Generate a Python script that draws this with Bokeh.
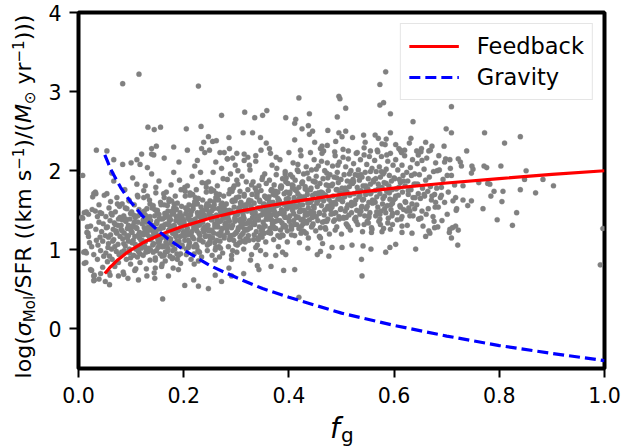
import math
from bokeh.plotting import figure
from bokeh.models import Range1d, FixedTicker, PrintfTickFormatter, Legend, LegendItem
from bokeh.core.properties import value
from bokeh.embed import file_html
from bokeh.resources import INLINE

# ---------------- model curves ----------------
fg_curve = [0.05, 0.055, 0.06, 0.065, 0.07, 0.075, 0.08, 0.09, 0.10, 0.12, 0.13, 0.15, 0.17,
            0.20, 0.25, 0.30, 0.35, 0.40, 0.50, 0.60, 0.70, 0.80, 0.90, 1.00]
feedback = [0.70, 0.74, 0.78, 0.81, 0.845, 0.875, 0.90, 0.955, 1.00, 1.08, 1.115, 1.175, 1.23,
            1.30, 1.40, 1.48, 1.545, 1.60, 1.70, 1.78, 1.845, 1.90, 1.955, 2.00]
gravity = [2.20, 2.12, 2.04, 1.97, 1.91, 1.85, 1.79, 1.69, 1.60, 1.44, 1.37, 1.25, 1.14,
           1.00, 0.80, 0.65, 0.51, 0.40, 0.20, 0.045, -0.09, -0.21, -0.31, -0.40]

# ---------------- galaxies: f_g (x1000) and log ratio (x100) ----------------
fg_r01 = [6,10,14,15,18,19,21,23,23,26,27,29,30,30,33,33,34,36,36,37,39,39,41,42,42,44,44,46,46,47,48,49,25,32,17]
lr_r01 = [141,97,84,148,121,117,109,130,75,151,167,94,62,68,171,126,112,142,88,106,135,157,116,70,99,123,146,78,111,133,92,169,104,149,129]

fg_r02 = [51,52,52,54,55,55,57,58,58,60,61,61,63,64,64,66,67,67,69,70,70,72,73,73,75,76,76,78,79,53,56,59,62,65,68,71,74,77,79,57,63,69,75,60,72]
lr_r02 = [118,142,96,171,129,85,108,153,72,137,119,161,101,88,144,126,187,113,79,148,132,98,166,121,107,139,84,155,117,128,103,92,146,111,134,124,158,94,141,116,197,104,131,68,122]

fg_r03 = [81,82,83,84,85,86,87,88,89,90,91,92,93,94,95,96,97,98,99,100,101,102,103,104,105,106,107,108,109,110,111,112,113,114,115,116,117,118,119,81,84,87,90,93,96,99,102,105,108,111,114,117,83,89,95,101,107,113,119,86]
lr_r03 = [131,97,158,114,72,143,121,176,105,136,88,152,127,64,118,163,101,139,82,124,148,109,191,131,93,157,117,141,76,128,104,169,135,98,151,122,84,145,112,126,208,99,137,115,162,90,129,144,107,183,119,95,138,153,111,129,74,167,102,140]

fg_r04 = [121,122,123,124,125,126,127,128,129,130,131,132,133,134,135,136,137,138,139,140,141,142,143,144,145,146,147,148,149,150,151,152,153,154,155,156,157,158,159,122,125,128,131,134,137,140,143,146,149,152,155,158,124,130,136,142,148,154,127,133,139,145,151,157,123,135,147,159,129,141]
lr_r04 = [112,147,93,166,128,104,181,135,76,152,119,98,141,125,163,87,137,114,196,131,106,156,121,71,143,117,172,99,134,150,126,109,187,140,95,160,115,130,82,145,122,102,168,136,113,153,127,90,148,118,139,105,175,124,158,97,133,111,144,129,221,64,103,157,138,116,179,92,142,124]

fg_r05 = [161,162,163,164,165,166,167,168,169,170,171,172,173,174,175,176,177,178,179,180,181,182,183,184,185,186,187,188,189,190,191,192,193,194,195,196,197,198,199,162,165,168,171,174,177,180,183,186,189,192,195,198,164,170,176,182,188,194,200,163,167,173,179,185,191,197,169,181,193,166,178,190,196,172,184]
lr_r05 = [128,104,157,141,86,119,173,133,98,149,115,164,126,92,138,182,109,145,121,77,153,131,101,168,117,142,95,159,124,136,111,188,147,83,129,155,106,139,121,171,97,144,132,113,162,90,127,151,108,135,176,118,146,102,130,158,88,140,123,166,114,137,99,152,126,143,107,198,134,116,149,93,129,161,120]

fg_r06 = [201,202,203,204,205,206,207,208,209,210,211,212,213,214,215,216,217,218,219,220,221,222,223,224,225,226,227,228,229,230,231,232,233,234,235,236,237,238,239,202,205,208,211,214,217,220,223,226,229,232,235,238,204,210,216,222,228,234,240,203,207,213,219,225,231,237,209,221,233,206,218,230,236,212,224]
lr_r06 = [137,112,168,146,94,125,181,141,103,157,120,172,133,88,149,193,116,152,128,82,161,139,107,176,124,147,99,165,131,143,118,198,154,91,136,163,110,145,127,179,101,151,138,119,170,95,133,158,113,142,185,123,153,106,137,166,86,148,129,174,119,144,104,159,132,150,112,206,140,121,156,97,135,169,126]

fg_r07 = [241,242,243,244,245,246,247,248,249,250,251,252,253,254,255,256,257,258,259,260,261,262,263,264,265,266,267,268,269,270,271,272,273,274,275,276,277,278,279,242,245,248,251,254,257,260,263,266,269,272,275,278,244,250,256,262,268,274,280,243,247,253,259,265,271,277,249,261,273,246,258,270,276,252,264]
lr_r07 = [142,118,173,151,99,131,186,146,108,162,125,177,138,93,154,198,121,157,133,87,166,144,112,181,129,152,104,170,136,148,123,203,159,96,141,168,115,150,132,184,106,156,143,124,175,100,138,163,118,147,190,128,158,111,142,171,91,153,134,179,124,149,109,164,137,155,117,211,145,126,161,102,140,174,131]

fg_r08 = [281,282,283,284,285,286,287,288,289,290,291,292,293,294,295,296,297,298,299,300,301,302,303,304,305,306,307,308,309,310,311,312,313,314,315,316,317,318,319,282,285,288,291,294,297,300,303,306,309,312,315,318,284,290,296,302,308,314,320,283,287,293,299,305,311,317,289,301,313,286,298,310,316,292,304]
lr_r08 = [158,127,189,143,104,171,136,117,196,149,88,162,131,178,112,154,140,207,121,166,97,145,183,128,152,109,174,139,160,119,193,134,148,101,168,125,157,114,186,142,130,176,93,163,146,122,200,137,155,111,170,133,147,118,181,106,159,141,125,215,150,99,138,167,129,153,116,188,144,77,162,135,126,174,148]

fg_r09 = [321,322,323,324,325,326,327,328,329,330,331,332,333,334,335,336,337,338,339,340,341,342,343,344,345,346,347,348,349,350,351,352,353,354,355,356,357,358,359,322,325,328,331,334,337,340,343,346,349,352,355,358,324,330,336,342,348,354,360,323,327,333,339,345,351,357,329,341,353,326,338,350,356,332,344]
lr_r09 = [149,176,118,163,137,201,128,155,94,170,141,186,113,159,132,147,219,123,167,106,153,138,181,129,161,99,175,144,116,192,135,157,121,168,146,110,184,139,152,126,207,162,133,148,103,172,143,119,189,156,130,165,112,150,178,138,124,196,147,160,87,134,169,153,121,144,182,115,158,136,174,127,151,141,163]

fg_r10 = [361,362,363,364,365,366,367,368,369,370,371,372,373,374,375,376,377,378,379,380,381,382,383,384,385,386,387,388,389,390,391,392,393,394,395,396,397,398,399,362,365,368,371,374,377,380,383,386,389,392,395,398,364,370,376,382,388,394,363,369,375,381,387,393,367,379,391,372,384,396]
lr_r10 = [166,139,188,152,121,175,144,207,131,160,113,182,148,169,127,195,156,137,173,104,162,146,214,125,178,151,134,190,118,158,171,142,199,129,164,153,110,184,140,167,122,176,150,136,203,159,116,180,145,131,191,155,127,170,143,161,97,186,149,133,174,157,119,196,138,165,147,128,179,152]

fg_r11 = [401,402,403,404,405,406,407,408,409,410,411,412,413,414,415,416,417,418,419,420,421,422,423,424,425,426,427,428,429,430,431,432,433,434,435,436,437,438,439,402,405,408,411,414,417,420,423,426,429,432,435,438,404,412,420,428,436,407,415,423,431,410,426,418,434]
lr_r11 = [171,143,195,158,126,182,150,210,137,166,118,188,154,175,132,201,162,141,179,109,168,151,219,130,185,157,139,196,123,164,177,147,205,134,170,159,115,190,146,173,128,181,156,142,208,165,121,186,150,136,197,161,131,176,148,167,102,192,155,138,180,163,124,199,144]

fg_r12 = [441,442,443,444,445,446,447,448,449,450,451,452,453,454,455,456,457,458,459,460,461,462,463,464,465,466,467,468,469,470,471,472,473,474,475,476,477,478,479,442,446,450,454,458,462,466,470,474,478,444,452,460,468,476,448,456,464,472,480,445]
lr_r12 = [176,149,201,163,131,187,155,214,142,171,124,193,159,180,137,206,167,146,184,115,173,156,222,135,190,162,144,200,128,169,182,152,210,139,175,164,120,195,151,178,133,186,161,147,212,170,126,191,155,141,202,166,136,181,153,172,108,197,160,143]

fg_r13 = [481,482,483,484,485,486,487,488,489,490,491,492,493,494,495,496,497,498,499,500,501,502,503,504,505,506,507,508,509,510,511,512,513,514,515,516,517,518,519,483,487,491,495,499,503,507,511,515,519,485,493,501,509,517,489]
lr_r13 = [181,154,206,168,136,192,160,219,147,176,129,198,164,185,142,211,172,151,189,120,178,161,227,140,195,167,149,205,133,174,187,157,215,144,180,169,125,200,156,183,138,191,166,152,217,175,131,196,160,146,207,171,141,186,158]

fg_r14 = [521,522,523,524,525,526,527,528,529,530,531,532,533,534,535,536,537,538,539,540,541,542,543,544,545,546,547,548,549,550,551,552,553,554,555,556,557,558,559,523,527,531,535,539,543,547,551,555,559,537]
lr_r14 = [184,158,209,171,139,195,163,222,150,179,132,201,167,188,145,214,175,154,192,123,181,164,229,143,198,170,152,208,136,177,190,160,218,147,183,172,128,203,159,186,141,194,169,155,220,178,134,199,163,149]

fg_r15 = [561,562,563,564,565,566,567,568,569,570,571,572,573,574,575,576,577,578,579,580,581,582,583,584,585,586,587,588,589,590,591,592,593,594,595,596,597,598,599,565,573,581,589,597,569]
lr_r15 = [188,162,213,175,143,199,167,226,154,183,136,205,171,192,149,218,179,158,196,127,185,168,233,147,202,174,156,212,140,181,194,164,222,151,187,176,132,207,163,190,145,198,173,159,224]

fg_r16 = [601,602,603,604,606,607,608,609,611,612,613,615,616,617,618,620,621,622,624,625,626,627,629,630,631,632,634,635,636,638,639,640,614,628,610]
lr_r16 = [190,165,214,177,147,201,169,228,156,185,139,207,173,194,151,219,181,160,198,131,187,170,235,149,204,176,158,214,143,183,196,166,223,153,189]

fg_r17 = [641,643,644,646,647,648,650,651,653,654,655,657,658,660,661,662,664,665,667,668,669,671,672,674,675,677,678,679]
lr_r17 = [183,157,209,171,139,195,165,224,149,178,130,202,168,188,145,216,174,152,192,121,180,163,231,142,199,170,154,210]

fg_r18 = [681,684,686,688,691,693,696,698,701,703,706,709,712,715,718]
lr_r18 = [178,154,201,166,137,189,160,215,145,173,126,194,162,182,150]

# extra points in the dense core of the cloud
fg_c1 = [83,86,90,92,95,97,99,102,104,106,109,111,113,116,118,121,123,125,127,130,132,134,136,138,141,143,145,147,149,151,153,156,158,160,162,164,166,169,171,173,175,177,179,181,183,185,187,189,191,193,195,197,199,112,128,146,163,178,194,137]
lr_c1 = [124,108,139,117,131,96,146,122,112,135,101,127,143,115,106,133,119,149,110,138,125,102,142,116,130,108,151,121,136,113,145,127,104,139,118,132,109,156,124,141,114,129,106,147,120,137,111,126,143,117,135,104,131,91,97,87,93,89,95,100]

fg_c2 = [201,203,205,207,209,211,213,215,217,219,221,223,225,227,229,231,233,235,237,239,241,243,245,247,249,251,253,255,257,259,261,263,265,267,269,271,273,275,277,279,281,283,285,287,289,291,293,295,297,299,301,303,305,307,309,311,313,315,317,319,322,326,330,334,338,342,346,349,324,336]
lr_c2 = [133,118,152,127,141,109,146,123,137,114,158,129,104,143,121,135,112,149,126,140,117,155,131,108,145,124,138,115,152,129,103,142,120,136,111,157,127,144,118,133,150,122,139,113,147,128,161,119,136,107,144,125,153,116,132,148,121,139,110,156,134,128,147,119,141,113,152,126,160,137]

fg_c3 = [351,353,355,357,359,361,363,365,367,369,371,373,375,377,379,381,383,385,387,389,391,393,395,397,399,401,403,405,407,409,411,413,415,417,419,421,423,425,427,429,431,433,435,437,439,441,443,445,447,449,452,456,460,464,468,472,476,480,484,488,492,496,499,458,474]
lr_c3 = [148,131,167,139,156,122,161,143,176,134,152,127,170,145,118,163,137,181,149,129,158,141,173,124,165,136,154,119,178,146,132,162,141,171,127,157,149,184,133,166,144,121,175,153,138,160,129,169,147,186,142,163,128,172,150,136,181,145,158,125,176,139,164,117,155]

fg_c4 = [501,504,507,510,513,516,519,522,525,528,531,534,537,540,543,546,549,552,555,558,561,564,567,570,573,576,579,582,585,588,591,594,597,600,603,606,609,612,615,618,621,624,627,630,633,636,639,645,651,657]
lr_c4 = [162,141,178,153,129,170,147,189,158,136,174,149,195,163,132,181,155,143,171,126,186,160,148,177,139,199,165,152,184,134,172,157,146,191,168,138,179,154,130,187,161,149,175,143,194,166,152,183,140,170]

# individually read outlying points
fg_out = [84,115,228,272,316,335,132,144,156,205,233,247,238,255,262,286,313,331,34,54,67,100,111,117,120,131,139,148,143,163,181,191,207,226,234,240,249,269,277,283,293,287,301,315,322,315,337,8,
          584,573,419,495,497,580,573,508,350,358,439,394,413,411,492,593,636,437,425,445,439,474,495,508,501,542,564,570,585,593,346,411,489,521,545,577,603,632,660,449,463,473,347,357,363,365,376,400,422,441,460,466,487,513,530,555,586,612,620,643,652,666,646,653,
          709,699,709,772,840,810,695,738,669,685,696,706,722,726,728,748,750,747,771,776,803,851,707,682,701,883,
          848,903,731,690,761,778,782,790,807,840,869,784,672,690,717,731,747,679,740,719,769,805,833,796,825,676,677,683,711,717,722,705,709,721,992,997,
          539,538,419,411,390,366,340,343,476,501,482,520,541,556,584,592,603,641,460,454,394,375,356,660,666,647,615,596,634,615,593,577,557,574,552,
          160,59,39,29,29,25,51,76,86,114,130,146,171,202,219,228,247,272,260,291,314,190,158,11,8,19,16,13,32,29,41,11,15]
lr_out = [310,322,307,270,274,267,255,252,255,253,256,243,236,237,238,242,248,248,226,225,214,210,214,208,221,204,228,231,220,216,230,211,226,213,228,223,226,223,223,215,216,228,222,221,217,213,212,194,
          325,309,292,294,291,286,283,279,270,276,272,267,265,260,268,272,262,257,253,250,246,251,248,250,243,245,245,241,240,248,242,239,237,242,236,234,233,241,236,236,231,232,226,235,228,222,217,223,226,223,228,225,224,225,223,225,220,226,226,225,228,225,220,213,
          281,253,248,248,243,235,231,225,226,219,211,214,215,211,206,206,202,197,206,204,206,200,203,200,194,189,
          189,181,181,179,185,184,183,174,174,176,172,168,168,169,166,163,162,160,156,152,152,161,147,138,131,136,128,129,128,130,125,122,115,106,81,127,
          67,88,40,75,74,79,80,75,92,103,103,106,105,101,97,103,107,101,98,94,94,93,94,117,124,139,142,143,121,122,126,123,122,132,141,
          38,56,63,67,61,74,60,67,69,62,67,77,67,55,62,54,51,60,68,67,70,75,79,147,140,145,122,98,173,171,147,83,96]

fg_groups = [fg_r01, fg_r02, fg_r03, fg_r04, fg_r05, fg_r06, fg_r07, fg_r08, fg_r09,
             fg_r10, fg_r11, fg_r12, fg_r13, fg_r14, fg_r15, fg_r16, fg_r17, fg_r18,
             fg_c1, fg_c2, fg_c3, fg_c4, fg_out]
lr_groups = [lr_r01, lr_r02, lr_r03, lr_r04, lr_r05, lr_r06, lr_r07, lr_r08, lr_r09,
             lr_r10, lr_r11, lr_r12, lr_r13, lr_r14, lr_r15, lr_r16, lr_r17, lr_r18,
             lr_c1, lr_c2, lr_c3, lr_c4, lr_out]

gx, gy = [], []
for fx, fy in zip(fg_groups, lr_groups):
    for a, b in zip(fx, fy):
        gx.append(a / 1000.0)
        gy.append(b / 100.0)

# ---------------- layout ----------------
W, H = 625, 448
ML, MR, MT, MB = 78, 21, 12, 80
X0, X1, Y0, Y1 = 0.0, 1.0, -0.5, 4.0
PXX = (W - ML - MR) / (X1 - X0)
PXY = (H - MT - MB) / (Y1 - Y0)
FONT = "DejaVu Sans"
MID = 0.346   # distance (in em) from the alphabetic baseline to the middle of the text box


def cx(px):
    """canvas x (px from left) -> data x"""
    return X0 + (px - ML) / PXX


def cy(py):
    """canvas y (px from top) -> data y"""
    return Y1 - (py - MT) / PXY


p = figure(width=W, height=H, x_range=Range1d(X0, X1), y_range=Range1d(Y0, Y1),
           output_backend="svg", toolbar_location=None,
           min_border_left=ML, min_border_right=MR, min_border_top=MT, min_border_bottom=MB)
p.background_fill_color = "white"
p.border_fill_color = "white"
p.xgrid.visible = False
p.ygrid.visible = False
p.outline_line_color = "black"
p.outline_line_width = 4
p.outline_line_alpha = 1.0

p.xaxis.ticker = FixedTicker(ticks=[0.0, 0.2, 0.4, 0.6, 0.8, 1.0])
p.xaxis.formatter = PrintfTickFormatter(format="%.1f")
p.yaxis.ticker = FixedTicker(ticks=[0, 1, 2, 3, 4])
p.yaxis.formatter = PrintfTickFormatter(format="%d")
for ax in (p.xaxis[0], p.yaxis[0]):
    ax.axis_line_color = None
    ax.major_tick_out = 9
    ax.major_tick_in = 0
    ax.minor_tick_out = 0
    ax.minor_tick_in = 0
    ax.major_tick_line_width = 2
    ax.major_tick_line_color = "black"
    ax.major_label_text_font = FONT
    ax.major_label_text_font_size = "20.5px"
    ax.major_label_text_color = "black"
p.xaxis[0].major_label_standoff = 9
p.yaxis[0].major_label_standoff = 8

p.scatter(gx, gy, size=5.2, fill_color="#808080", line_color="#808080", line_width=0.3)
r_fb = p.line(fg_curve, feedback, line_color="#ff0000", line_width=3.2)
r_gr = p.line(fg_curve, gravity, line_color="#0000ff", line_width=3.2, line_dash="11 5")

legend = Legend(items=[LegendItem(label="Feedback", renderers=[r_fb]),
                       LegendItem(label="Gravity", renderers=[r_gr])],
                location="top_right")
legend.label_text_font = FONT
legend.label_text_font_size = "22.5px"
legend.label_text_color = "black"
legend.glyph_width = 50
legend.glyph_height = 28
legend.label_height = 28
legend.label_standoff = 18
legend.padding = 8
legend.spacing = 3
legend.margin = 11
legend.border_line_color = "#cccccc"
legend.border_line_width = 1.5
legend.background_fill_color = "white"
legend.background_fill_alpha = 0.8
p.add_layout(legend)

# ---------------- rotated y title, built from text pieces (overlay level, not clipped) ----------------
BIG, SMALL = 22, 15
# text, font px, advance (em), baseline shift (px, + = subscript), style, gap before (em)
ylab_pieces = [
    ("log(", BIG, 1.915, 0, "normal", 0.0),
    ("\u03c3", BIG, 0.64, 0, "italic", 0.0),
    ("Mol", SMALL, 1.753, 4, "normal", 0.0),
    ("/SFR ((km s", BIG, 5.732, 0, "normal", 0.0),
    ("\u22121", SMALL, 1.474, -8, "normal", 0.0),
    (")/(", BIG, 1.117, 0, "normal", 0.0),
    ("M", BIG, 0.863, 0, "italic", 0.0),
    ("\u2299", SMALL, 0.838, 4, "normal", 0.0),
    ("yr", BIG, 1.003, 0, "normal", 0.318),
    ("\u22121", SMALL, 1.474, -8, "normal", 0.0),
    (")))", BIG, 1.17, 0, "normal", 0.0),
]
total = sum(s * (w + g) for _, s, w, _, _, g in ylab_pieces)
start_down = 196.0 + total / 2.0
BASE_X = 31.0
cum = 0.0
for t, s, w, sh, st, g in ylab_pieces:
    cum += s * g
    p.text(x=[cx(BASE_X + sh - MID * s)], y=[cy(start_down - cum)], text=[t], angle=math.pi / 2,
           text_font=value(FONT), text_font_size="%dpx" % s, text_font_style=st,
           text_align="left", text_baseline="middle", text_color="black",
           level="overlay")
    cum += s * w

# ---------------- x title f_g ----------------
F_BASE, G_BASE = 438.0, 441.0
p.text(x=[cx(329.5)], y=[cy(F_BASE - MID * 28)], text=["f"], text_font=value(FONT),
       text_font_size="28px", text_font_style="italic", text_align="left",
       text_baseline="middle", text_color="black", level="overlay")
p.text(x=[cx(340.5)], y=[cy(G_BASE - MID * 20)], text=["g"], text_font=value(FONT),
       text_font_size="20px", text_font_style="normal", text_align="left",
       text_baseline="middle", text_color="black", level="overlay")

open("out.html", "w").write(file_html(p, INLINE))
